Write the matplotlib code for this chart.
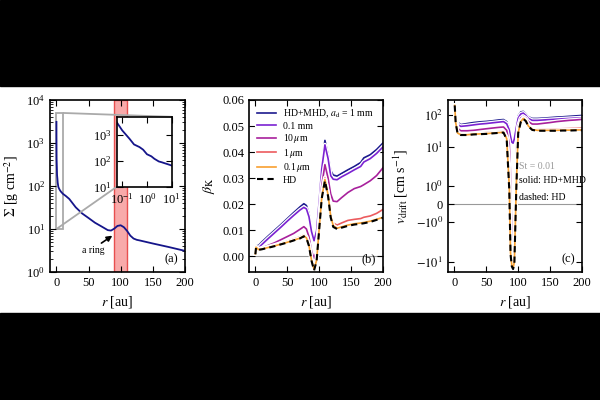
import numpy as np
import matplotlib
matplotlib.use("Agg")
import matplotlib.pyplot as plt
import matplotlib.patheffects as pe
from matplotlib.patches import Rectangle
from matplotlib.ticker import FixedLocator, FixedFormatter, LogLocator, NullFormatter
from mpl_toolkits.axes_grid1.inset_locator import mark_inset

plt.rcParams['font.family'] = ['Liberation Serif', 'DejaVu Serif']
plt.rcParams['mathtext.fontset'] = 'stix'
plt.rcParams['font.size'] = 9

# panel (a): gas surface density
r_sig = [0.06, 0.1, 0.2, 0.3, 0.5, 0.7, 1, 1.5, 2, 3, 4, 5, 7, 10, 15, 20, 30, 40, 50, 60,
         70, 80, 85, 90, 95, 100, 105, 110, 115, 120, 125, 130, 150, 175, 200]
sigma = [3100, 1500, 700, 430, 340, 270, 180, 150, 120, 95, 88, 82, 74, 66, 58, 50, 32, 23, 18, 14,
         11.5, 9.4, 9.2, 10.2, 11.8, 12.2, 11, 9, 7, 6, 5.6, 5.4, 4.6, 3.8, 3.1]

# panel (b): beta_K
r_b = [0, 1, 5, 10, 20, 30, 40, 50, 60, 70, 76, 80, 84, 88, 92, 96, 100, 104, 109, 114,
       118, 122, 128, 135, 145, 155, 165, 170, 180, 190, 200]
beta_1mm = [0.001, 0.004, 0.0042, 0.0055, 0.0078, 0.0100, 0.0122, 0.0145, 0.0168, 0.019, 0.0202,
            0.0195, 0.0165, 0.0105, 0.0068, 0.0105, 0.022, 0.035, 0.0445, 0.039, 0.033, 0.0312,
            0.0308, 0.0318, 0.0332, 0.0345, 0.036, 0.0378, 0.039, 0.041, 0.0435]
beta_01mm = [0.001, 0.0035, 0.0032, 0.0045, 0.0068, 0.009, 0.0112, 0.0135, 0.0157, 0.0178, 0.0188,
             0.0182, 0.0152, 0.0095, 0.006, 0.0098, 0.021, 0.0335, 0.0428, 0.0375, 0.031, 0.0296,
             0.0294, 0.0305, 0.0318, 0.0332, 0.0345, 0.0362, 0.0375, 0.0395, 0.042]
beta_10um = [0.001, 0.0035, 0.0028, 0.0032, 0.0042, 0.0052, 0.0064, 0.0076, 0.0088, 0.0104, 0.0114,
             0.0105, 0.0075, 0.002, -0.0008, 0.002, 0.014, 0.027, 0.0352, 0.030, 0.024, 0.0212,
             0.021, 0.0225, 0.0245, 0.026, 0.0268, 0.0275, 0.029, 0.031, 0.034]
beta_1um = [0.001, 0.0035, 0.0027, 0.0029, 0.0036, 0.0043, 0.005, 0.0058, 0.0066, 0.0075, 0.0082,
            0.0075, 0.0045, -0.001, -0.0045, -0.001, 0.011, 0.023, 0.0302, 0.024, 0.016, 0.0128,
            0.012, 0.0128, 0.0138, 0.0142, 0.0145, 0.015, 0.0155, 0.0165, 0.018]
beta_01um = [0.001, 0.0035, 0.0026, 0.0028, 0.0034, 0.004, 0.0047, 0.0054, 0.0062, 0.007, 0.0078,
             0.0071, 0.0042, -0.0015, -0.005, -0.0015, 0.0105, 0.0225, 0.0295, 0.0235, 0.0155, 0.0118,
             0.0108, 0.0113, 0.012, 0.0125, 0.0128, 0.013, 0.0135, 0.0142, 0.015]
beta_hd = [0.0008, 0.0033, 0.0025, 0.0027, 0.0033, 0.0039, 0.0046, 0.0053, 0.0061, 0.0069, 0.0077,
           0.007, 0.004, -0.0017, -0.0054, -0.0017, 0.0102, 0.0222, 0.029, 0.023, 0.015, 0.0113,
           0.0105, 0.011, 0.0117, 0.0122, 0.0125, 0.0127, 0.0132, 0.014, 0.0148]

# panel (c): drift velocity
r_c = [0.5, 2, 5, 10, 20, 30, 40, 50, 60, 70, 77, 82, 86, 88, 90, 92, 94, 97, 100, 104,
       108, 112, 116, 122, 130, 140, 150, 160, 170, 180, 190, 200]
v_1mm = [200, 110, 60, 50, 54, 58, 61, 63, 66, 70, 72, 62, 40, 25, 17, 16, 22, 50, 95, 125,
         130, 110, 88, 78, 78, 80, 83, 86, 88, 91, 94, 97]
v_01mm = [200, 100, 50, 44, 46, 49, 52, 54, 57, 60, 62, 53, 34, 21, 14, 13, 18, 40, 80, 108,
          115, 98, 78, 68, 68, 70, 72, 74, 76, 78, 80, 82]
v_10um = [200, 80, 38, 32, 32, 33, 35, 37, 39, 41, 42, 33, 12, 2, -3, -4.3, -2, 8, 45, 80,
          90, 80, 62, 52, 52, 55, 58, 62, 65, 68, 70, 73]
v_1um = [200, 60, 28, 25, 25, 26, 27, 28, 29, 30, 30, 20, 3, -4, -9, -11, -7, 2, 30, 65,
         82, 70, 48, 37, 35, 35.5, 36, 36.5, 37, 37.5, 38, 39]
v_01um = [200, 58, 27, 24, 24, 25, 25.5, 26, 27, 28, 28.5, 18, 1, -6, -13, -16, -10, 1, 28, 62,
          78, 66, 45, 35, 33, 33, 33, 33, 33.5, 33.5, 34, 34]
v_hd = [200, 57, 26, 23.5, 23.5, 24.5, 25, 25.5, 26.5, 27.5, 28, 17, 0.8, -6.5, -14, -17, -11, 0.8, 27, 60,
        76, 64, 44, 34, 32, 32, 32, 32, 32.5, 32.5, 33, 33]

labels = [r'HD+MHD, $a_{\rm d}$ = 1 mm', '0.1 mm', r'10$\,\mu$m', r'1$\,\mu$m', r'0.1$\,\mu$m', 'HD']
colors = ['#1c1a8e', '#7b22d2', '#a8209c', '#ec5b5e', '#f8a030']


def style(ax):
    ax.tick_params(direction='in', top=True, right=True, which='both', labelsize=9)
    ax.tick_params(which='major', length=4)
    ax.tick_params(which='minor', length=2)
    for s in ax.spines.values():
        s.set_linewidth(1.2)


fig = plt.figure(figsize=(6, 4), dpi=100)
fig.patches.append(Rectangle((0, 0.785), 1, 0.215, transform=fig.transFigure, color='k', zorder=-5))
fig.patches.append(Rectangle((0, 0), 1, 0.2175, transform=fig.transFigure, color='k', zorder=-5))

# (a)
ax1 = fig.add_axes([0.0833, 0.32, 0.225, 0.43])
ax1.axvspan(90, 110, facecolor='#f8aaaa', edgecolor='#e84f4f', lw=1, zorder=0)
ax1.plot(r_sig, sigma, color='#15158a', lw=1.3)
ax1.set_yscale('log')
ax1.set_ylim(1, 1e4)
ax1.set_xlim(-10, 200)
ax1.set_xticks([0, 50, 100, 150, 200])
ax1.yaxis.set_minor_locator(LogLocator(base=10, subs=np.arange(2, 10)))
ax1.yaxis.set_minor_formatter(NullFormatter())
ax1.set_xlabel(r'$r$ [au]', fontsize=10)
ax1.set_ylabel(r'$\Sigma$ [g cm$^{-2}$]', fontsize=10)
ax1.annotate('', xy=(87, 7.0), xytext=(70, 4.7),
             arrowprops=dict(arrowstyle='-|>', color='k', lw=1.2, mutation_scale=8,
                             shrinkA=0, shrinkB=0))
ax1.text(57, 3.1, 'a ring', fontsize=7, ha='center', va='center')
ax1.text(0.95, 0.04, '(a)', transform=ax1.transAxes, ha='right', va='bottom', fontsize=9)
style(ax1)

axin = fig.add_axes([0.1945, 0.533, 0.0917, 0.175])
axin.plot(r_sig, sigma, color='#15158a', lw=1.3)
axin.set_xscale('log')
axin.set_yscale('log')
axin.set_xlim(0.06, 10)
axin.set_ylim(10, 5000)
axin.xaxis.set_minor_formatter(NullFormatter())
axin.yaxis.set_minor_formatter(NullFormatter())
style(axin)
axin.tick_params(which='minor', length=0)
mark_inset(ax1, axin, loc1=1, loc2=3, fc='none', ec='#aaaaaa', lw=1.3)

# (b)
ax2 = fig.add_axes([0.415, 0.32, 0.2233, 0.43])
ax2.axhline(0, color='#999999', lw=0.8, zorder=0)
stroke = [pe.withStroke(linewidth=3, foreground='w')]
betas = [beta_1mm, beta_01mm, beta_10um, beta_1um, beta_01um]
for b, c, lab in zip(betas, colors, labels[:5]):
    ax2.plot(r_b, b, color=c, lw=1.2, label=lab, path_effects=stroke)
ax2.plot(r_b, beta_hd, color='k', lw=1.5, ls=(0, (3, 2)), label=labels[5])
ax2.set_xlim(-10, 200)
ax2.set_ylim(-0.006, 0.06)
ax2.set_xticks([0, 50, 100, 150, 200])
ax2.set_yticks([0, 0.01, 0.02, 0.03, 0.04, 0.05, 0.06])
ax2.yaxis.set_major_formatter(FixedFormatter(['0.00', '0.01', '0.02', '0.03', '0.04', '0.05', '0.06']))
ax2.set_xlabel(r'$r$ [au]', fontsize=10)
ax2.set_ylabel(r'$\beta_{\rm K}$', fontsize=10)
ax2.legend(loc='upper left', frameon=False, fontsize=7, handlelength=2, labelspacing=0.15,
           borderaxespad=0.4, handletextpad=0.7)
ax2.text(0.95, 0.04, '(b)', transform=ax2.transAxes, ha='right', va='bottom', fontsize=9)
style(ax2)


# custom symmetric log-like scale for (c)
def fwd(v):
    v = np.asarray(v, dtype=float)
    a = np.abs(v)
    lg = np.log10(np.maximum(a, 1e-12))
    p = np.where(a <= 1, a * 18.0, np.interp(lg, [0, 1, 2, 4], [18, 57.3, 89, 152.4]))
    return np.sign(v) * p


def inv(p):
    p = np.asarray(p, dtype=float)
    a = np.abs(p)
    v = np.where(a <= 18, a / 18.0, 10 ** np.interp(a, [18, 57.3, 89, 152.4], [0, 1, 2, 4]))
    return np.sign(p) * v


ax3 = fig.add_axes([0.7467, 0.32, 0.2233, 0.43])
ax3.set_yscale('function', functions=(fwd, inv))
ax3.axhline(0, color='#999999', lw=0.8, zorder=0)
vs = [v_1mm, v_01mm, v_10um, v_1um, v_01um]
for v, c in zip(vs, colors):
    ax3.plot(r_c, v, color=c, lw=1.2, path_effects=stroke)
ax3.plot(r_c, v_hd, color='k', lw=1.5, ls=(0, (3, 2)))
ax3.set_xlim(-10, 200)
ax3.set_ylim(-21, 297)
ax3.set_xticks([0, 50, 100, 150, 200])
ax3.yaxis.set_major_locator(FixedLocator([-10, -1, 0, 1, 10, 100]))
ax3.yaxis.set_major_formatter(FixedFormatter([r'$-10^{1}$', r'$-10^{0}$', '0', r'$10^{0}$',
                                              r'$10^{1}$', r'$10^{2}$']))
ax3.yaxis.set_minor_locator(FixedLocator([]))
ax3.set_xlabel(r'$r$ [au]', fontsize=10)
ax3.set_ylabel(r'$v_{\rm drift}$ [cm s$^{-1}$]', fontsize=10)
ax3.text(102, 3.2, 'St = 0.01', color='#999999', fontsize=7, va='center')
ax3.text(102, 1.42, 'solid: HD+MHD', color='k', fontsize=7, va='center')
ax3.text(102, 0.35, 'dashed: HD', color='k', fontsize=7, va='center')
ax3.text(0.95, 0.04, '(c)', transform=ax3.transAxes, ha='right', va='bottom', fontsize=9)
style(ax3)

fig.savefig('out.png', dpi=100)
